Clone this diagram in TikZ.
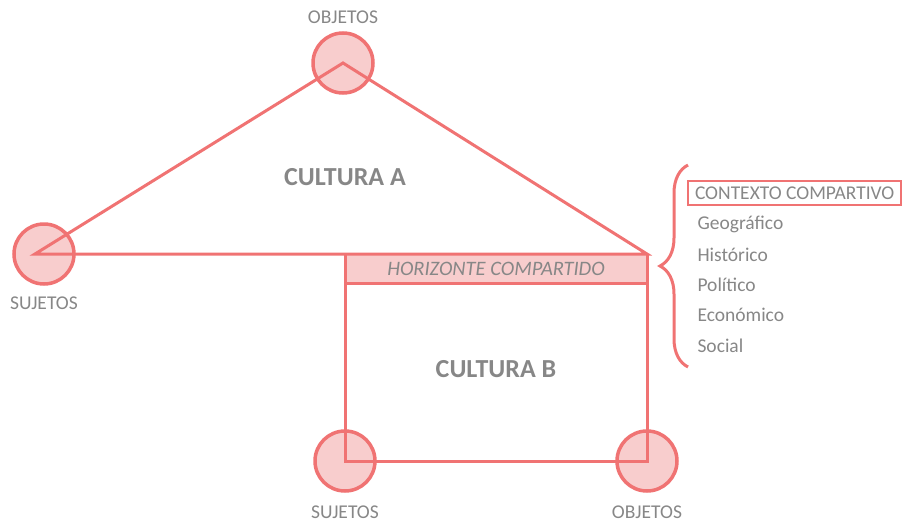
\documentclass[tikz,border=0pt]{standalone}
\usepackage{fontspec}
\setmainfont{Carlito}
\usetikzlibrary{decorations.pathreplacing}
\definecolor{lineRed}{RGB}{240,115,115}
\definecolor{softPink}{RGB}{248,205,205}
\definecolor{textGray}{RGB}{135,135,135}

\tikzset{
  agent/.style={circle,draw=lineRed,fill=softPink,line width=3.5pt,minimum size=60pt,inner sep=0pt},
  link/.style={draw=lineRed,line width=3pt},
  tag/.style={text=textGray,font=\fontsize{19.5}{22}\selectfont},
  culture/.style={text=textGray,font=\fontsize{26}{29}\selectfont\bfseries}
}

\begin{document}
\begin{tikzpicture}[x=1pt,y=-1pt]
	\useasboundingbox (0,0) rectangle (902,522);
	% agents
	\node[agent] (objA) at (343,63) {};
	\node[agent] (sujA) at (44,254) {};
	\node[agent] (sujB) at (345,461) {};
	\node[agent] (objB) at (647,461) {};
	\coordinate (sujAin) at (35,254);
	\coordinate (tipA) at (647,254);
	\coordinate (topB) at (345,254);
	\coordinate (midB) at (345,283);
	\coordinate (midR) at (647,283);
	% shared horizon
	\fill[softPink] (topB) rectangle (midR);
	\node[text=textGray,font=\fontsize{20.5}{23}\selectfont\itshape] (horiz) at (496,269) {HORIZONTE COMPARTIDO};
	% culture A
	\draw[link,line join=miter] (sujAin) -- (objA.center) -- (tipA) -- cycle;
	% culture B
	\draw[link] (topB) -- (sujB.center) -- (objB.center) -- (tipA);
	\draw[link] (midB) -- (midR);
	% labels
	\node[tag] (lblObjA) at (343,17) {OBJETOS};
	\node[tag] (lblSujA) at (44,303) {SUJETOS};
	\node[tag] (lblSujB) at (345,512) {SUJETOS};
	\node[tag] (lblObjB) at (647,512) {OBJETOS};
	\node[culture] (cultA) at (345,177) {CULTURA A};
	\node[culture] (cultB) at (496,369) {CULTURA B};
	% context list
	\draw[link,decorate,decoration={brace,amplitude=28pt}] (688,367) -- (688,165);
	\node[tag,draw=lineRed,line width=2pt,anchor=west,inner xsep=7pt,minimum height=24pt] (ctx) at (687,193) {CONTEXTO COMPARTIVO};
	\node[tag,anchor=west] (geo) at (694,224) {Geográfico};
	\node[tag,anchor=west] (his) at (694,255) {Histórico};
	\node[tag,anchor=west] (pol) at (694,285) {Político};
	\node[tag,anchor=west] (eco) at (694,315) {Económico};
	\node[tag,anchor=west] (soc) at (694,346) {Social};
\end{tikzpicture}
\end{document}
